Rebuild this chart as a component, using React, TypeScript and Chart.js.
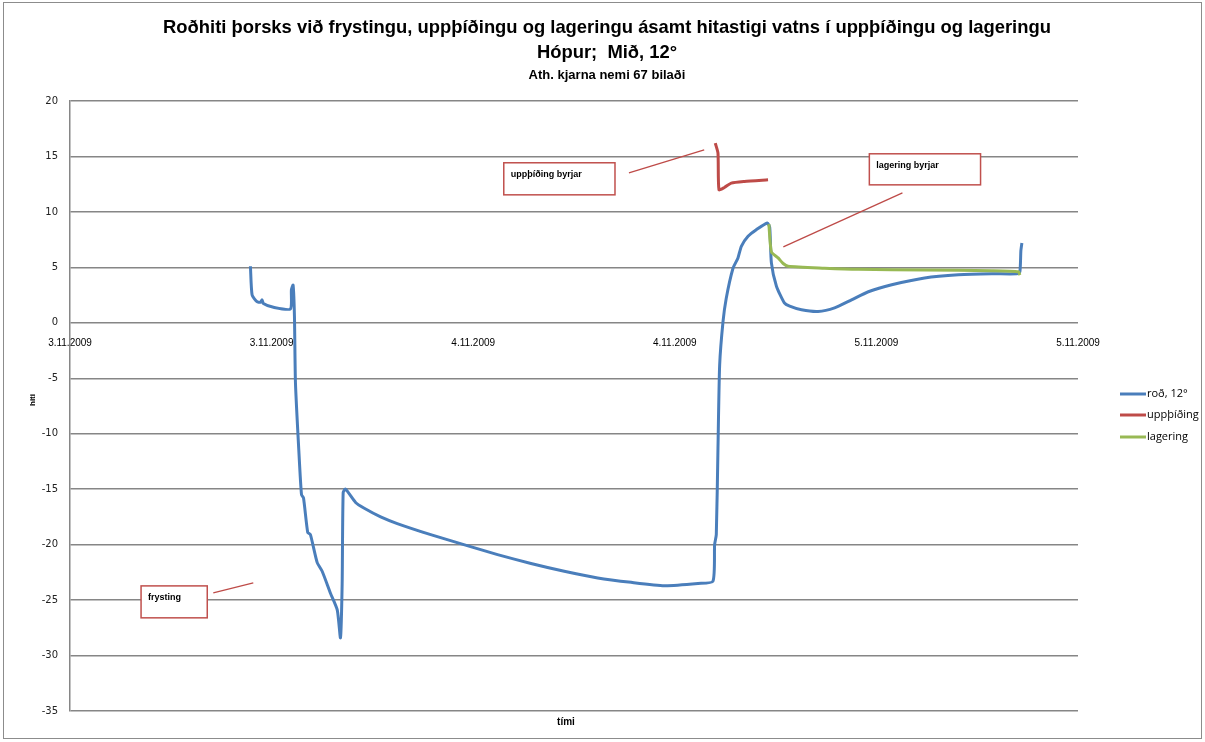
import React, { useEffect, useRef } from "react";
import { Chart, registerables } from "chart.js";

Chart.register(...registerables);

// ---- Data (x in hours from start of 3.11.2009, y in °C) ----
const xTickLabels = ["3.11.2009", "3.11.2009", "4.11.2009", "4.11.2009", "5.11.2009", "5.11.2009"];
const yTickValues = [-35, -30, -25, -20, -15, -10, -5, 0, 5, 10, 15, 20];

const seriesNames = ["roð, 12°", "uppþíðing", "lagering"];

const rodHours = [
  10.74, 10.84, 11.13, 11.33, 11.43, 11.51, 12.11, 13.12, 13.18, 13.28, 13.36, 13.42, 13.62, 13.78, 13.9,
  14.15, 14.31, 14.71, 15.01, 15.51, 15.91, 16.1, 16.2, 16.26, 16.4, 17.0, 17.49, 18.49, 19.48, 21.47, 23.44,
  25.45, 27.44, 29.42, 31.41, 33.4, 35.38, 37.38, 38.27, 38.37, 38.47, 38.57, 38.67, 38.87, 39.06, 39.46,
  39.76, 39.96, 40.36, 40.85, 41.51, 41.65, 41.75, 42.05, 42.52, 42.84, 43.54, 44.53, 45.51, 46.52, 47.52,
  48.91, 50.87, 52.88, 54.87, 56.36, 56.54, 56.6, 56.66,
];
const rodTemps = [
  5.1, 2.5, 1.9, 1.85, 2.07, 1.75, 1.4, 1.25, 3.0, 3.4, 0.6, -5.4, -11.5, -15.5, -15.8,
  -18.9, -19.1, -21.6, -22.4, -24.4, -25.9, -28.4, -23.5, -15.3, -15.0, -16.2, -16.7, -17.5, -18.1, -19.1, -20.0,
  -20.9, -21.7, -22.4, -23.0, -23.4, -23.7, -23.5, -23.3, -20.0, -19.1, -11.3, -3.8, 0.1, 2.2, 4.9,
  5.85, 6.9, 7.8, 8.4, 9.0, 8.6, 5.4, 3.3, 1.8, 1.5, 1.17, 1.02, 1.35, 2.07, 2.8,
  3.43, 4.05, 4.33, 4.42, 4.42, 4.6, 6.5, 7.2,
];

const thawHours = [38.41, 38.57, 38.63, 38.95, 39.36, 40.14, 41.55];
const thawTemps = [16.2, 15.3, 12.0, 12.2, 12.6, 12.75, 12.9];

const storeHours = [41.6, 41.75, 42.15, 42.45, 42.75, 44.91, 46.92, 50.87, 54.87, 56.46, 56.54];
const storeTemps = [8.9, 6.4, 5.85, 5.35, 5.1, 4.93, 4.82, 4.76, 4.7, 4.6, 4.3];

const titleLines = [
  "Roðhiti þorsks við frystingu, uppþíðingu og lageringu ásamt hitastigi vatns í uppþíðingu og lageringu",
  "Hópur;  Mið, 12°",
];
const subtitle = "Ath. kjarna nemi 67 bilaði";
const xTitle = "tími";
const yTitle = "hiti";

// Callout notes: text, box corners (hours, °C), pointer line ends (hours, °C)
const noteTexts = ["uppþíðing byrjar", "lagering byrjar", "frysting"];
const noteBoxes = [
  [25.82, 14.43, 32.44, 11.54],
  [47.58, 15.24, 54.2, 12.44],
  [4.23, -23.72, 8.17, -26.6],
];
const noteLines = [
  [33.27, 13.53, 37.75, 15.6],
  [49.55, 11.72, 42.46, 6.85],
  [8.53, -24.35, 10.91, -23.44],
];

const BLUE = "#4A7EBB";
const RED = "#BE4B48";
const GREEN = "#98B954";
const GRID = "#868686";

const toPoints = (xs: number[], ys: number[]) => xs.map((x, i) => ({ x, y: ys[i] }));

const decorPlugin = {
  id: "decor",
  afterDraw(chart: any) {
    const ctx = chart.ctx as CanvasRenderingContext2D;
    const xs = chart.scales.x;
    const ys = chart.scales.y;
    ctx.save();

    // outer frame
    ctx.strokeStyle = "#8c8c8c";
    ctx.lineWidth = 1;
    ctx.strokeRect(3.5, 2.5, 1198, 736);

    // titles
    ctx.fillStyle = "#000";
    ctx.textAlign = "center";
    ctx.textBaseline = "middle";
    ctx.font = "bold 18.4px 'Liberation Sans', sans-serif";
    ctx.fillText(titleLines[0], 607, 28);
    ctx.fillText(titleLines[1], 607, 53);
    ctx.font = "bold 13px 'Liberation Sans', sans-serif";
    ctx.fillText(subtitle, 607, 75);

    // axis titles
    ctx.font = "bold 10px 'Liberation Sans', sans-serif";
    ctx.fillText(xTitle, 566, 722);
    ctx.save();
    ctx.translate(33, 400);
    ctx.rotate(-Math.PI / 2);
    ctx.font = "bold 8px 'Liberation Sans', sans-serif";
    ctx.fillText(yTitle, 0, 0);
    ctx.restore();

    // callouts
    noteTexts.forEach((t, i) => {
      const [lx1, ly1, lx2, ly2] = noteLines[i];
      ctx.strokeStyle = RED;
      ctx.lineWidth = 1.3;
      ctx.beginPath();
      ctx.moveTo(xs.getPixelForValue(lx1), ys.getPixelForValue(ly1));
      ctx.lineTo(xs.getPixelForValue(lx2), ys.getPixelForValue(ly2));
      ctx.stroke();

      const [bx1, by1, bx2, by2] = noteBoxes[i];
      const left = xs.getPixelForValue(bx1);
      const top = ys.getPixelForValue(by1);
      const w = xs.getPixelForValue(bx2) - left;
      const h = ys.getPixelForValue(by2) - top;
      ctx.fillStyle = "#fff";
      ctx.fillRect(left, top, w, h);
      ctx.strokeStyle = "#C0504D";
      ctx.lineWidth = 1.5;
      ctx.strokeRect(left, top, w, h);
      ctx.fillStyle = "#000";
      ctx.textAlign = "left";
      ctx.textBaseline = "middle";
      ctx.font = "bold 9px 'Liberation Sans', sans-serif";
      ctx.fillText(t, left + 7, top + 12);
    });

    // legend
    const colors = [BLUE, RED, GREEN];
    const legendY = [394, 415, 437];
    seriesNames.forEach((n, i) => {
      ctx.strokeStyle = colors[i];
      ctx.lineWidth = 3;
      ctx.beginPath();
      ctx.moveTo(1120, legendY[i]);
      ctx.lineTo(1146, legendY[i]);
      ctx.stroke();
      ctx.fillStyle = "#000";
      ctx.textAlign = "left";
      ctx.textBaseline = "middle";
      ctx.font = "11px 'Open Sans', 'Liberation Sans', sans-serif";
      ctx.fillText(n, 1147, legendY[i]);
    });

    ctx.restore();
  },
};

export default function App() {
  const ref = useRef<HTMLCanvasElement | null>(null);

  useEffect(() => {
    if (!ref.current) return;
    const lineDs = (label: string, pts: any[], color: string, order: number) => ({
      label,
      data: pts,
      borderColor: color,
      backgroundColor: color,
      borderWidth: 3,
      pointRadius: 0,
      tension: 0.2,
      fill: false,
      order,
    });
    const chart = new Chart(ref.current, {
      type: "line",
      data: {
        datasets: [
          lineDs(seriesNames[0], toPoints(rodHours, rodTemps), BLUE, 2),
          lineDs(seriesNames[1], toPoints(thawHours, thawTemps), RED, 1),
          lineDs(seriesNames[2], toPoints(storeHours, storeTemps), GREEN, 0),
        ],
      },
      options: {
        animation: false,
        responsive: false,
        layout: { padding: { left: 0, right: 127, top: 101, bottom: 31 } },
        plugins: { legend: { display: false }, tooltip: { enabled: false }, title: { display: false } },
        scales: {
          x: {
            type: "linear",
            position: { y: 0 } as any,
            min: 0,
            max: 60,
            grid: { display: false },
            border: { display: false },
            ticks: {
              stepSize: 12,
              autoSkip: false,
              maxRotation: 0,
              padding: 6,
              color: "#000",
              font: { family: "'Liberation Sans', sans-serif", size: 10 },
              callback: (v: any) => xTickLabels[Math.round(Number(v) / 12)] ?? "",
            },
          },
          y: {
            type: "linear",
            position: "left",
            min: -35,
            max: 20,
            afterFit: (s: any) => {
              s.width = 70;
            },
            afterBuildTicks: (s: any) => {
              s.ticks = yTickValues.map((v) => ({ value: v }));
            },
            grid: { color: GRID, lineWidth: 1.5, drawTicks: false },
            border: { display: true, color: GRID, width: 1.5 },
            ticks: {
              padding: 12,
              color: "#222",
              font: { family: "'DejaVu Sans', sans-serif", size: 10 },
            },
          },
        },
      },
      plugins: [decorPlugin],
    });
    return () => chart.destroy();
  }, []);

  return (
    <div style={{ position: "fixed", left: 0, top: 0, width: 1205, height: 742, background: "#fff" }}>
      <canvas ref={ref} width={1205} height={742} />
    </div>
  );
}
